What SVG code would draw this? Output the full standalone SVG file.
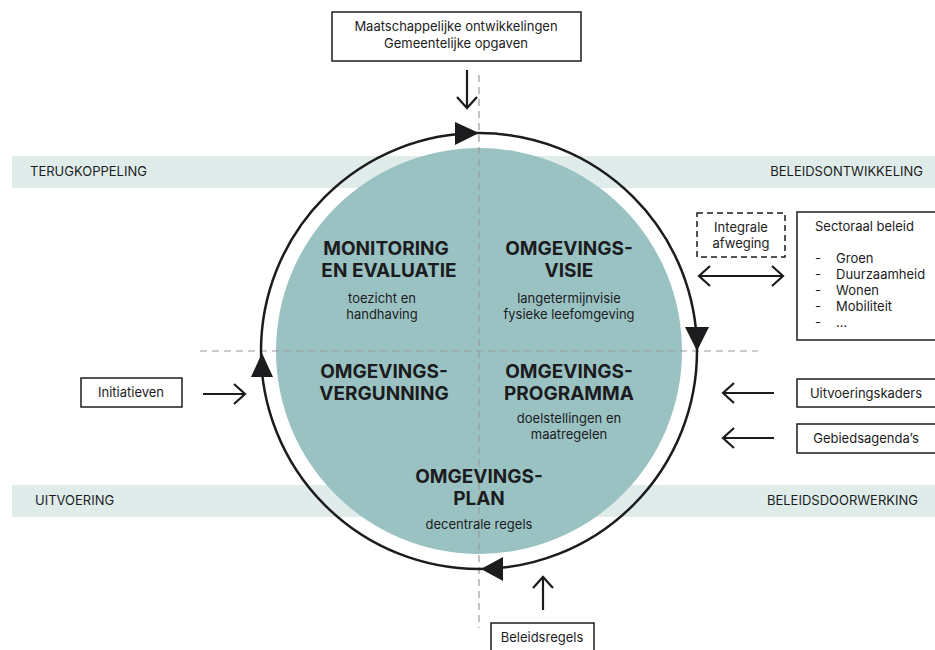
<svg xmlns="http://www.w3.org/2000/svg" width="935" height="650" viewBox="0 0 935 650">
<style>
.band{fill:#dfecea}
.lbl{font-family:Inter,"Liberation Sans",sans-serif;font-size:13px;fill:#1c1c1e}
.ttl{font-family:Inter,"Liberation Sans",sans-serif;font-size:19px;font-weight:700;fill:#1c1c1e}
.sub{font-family:Inter,"Liberation Sans",sans-serif;font-size:13px;fill:#1c1c1e}
.box{fill:#fff;stroke:#1c1c1e;stroke-width:1.5}
.dbox{fill:#fff;stroke:#1c1c1e;stroke-width:1.5;stroke-dasharray:6 4}
.axis{stroke:#9a9a9a;stroke-width:1.2;stroke-dasharray:7 5;fill:none}
.arr{stroke:#1c1c1e;stroke-width:2.2;fill:none}
.head{fill:#1c1c1e}
</style>
<defs>
<marker id="chev" viewBox="0 0 14 22" refX="12" refY="11" markerWidth="14" markerHeight="22" markerUnits="userSpaceOnUse" orient="auto-start-reverse">
<path d="M1,1 L12,11 L1,21" fill="none" stroke="#1c1c1e" stroke-width="2.2"/>
</marker>
</defs>
<rect width="935" height="650" fill="#fff"/>
<g id="bands">
<rect class="band" x="12" y="156" width="923" height="32"/>
<rect class="band" x="12" y="485" width="923" height="32"/>
<text class="lbl" x="30" y="176">TERUGKOPPELING</text>
<text class="lbl" x="923" y="176" text-anchor="end">BELEIDSONTWIKKELING</text>
<text class="lbl" x="35" y="505">UITVOERING</text>
<text class="lbl" x="918" y="505" text-anchor="end">BELEIDSDOORWERKING</text>
</g>
<g id="cycle">
<circle cx="479" cy="351" r="203" fill="#9ac2c2"/>
</g>
<g id="axes">
<line class="axis" x1="479" y1="75" x2="479" y2="628"/>
<line class="axis" x1="200" y1="351" x2="758" y2="351"/>
</g>
<g id="ring">
<circle cx="479" cy="351" r="218" fill="none" stroke="#1c1c1e" stroke-width="2.5"/>
<polygon class="head" points="479,133 455,122 455,145"/>
<polygon class="head" points="697,351 685,327 709,327"/>
<polygon class="head" points="481,569 503,557 503,581"/>
<polygon class="head" points="262,353 251,377 273,377"/>
</g>
<g id="monitoring">
<text class="ttl" x="386" y="255" text-anchor="middle">MONITORING</text>
<text class="ttl" x="389" y="277" text-anchor="middle">EN EVALUATIE</text>
<text class="sub" x="382" y="303" text-anchor="middle">toezicht en</text>
<text class="sub" x="382" y="319" text-anchor="middle">handhaving</text>
</g>
<g id="visie">
<text class="ttl" x="569" y="255" text-anchor="middle">OMGEVINGS-</text>
<text class="ttl" x="569" y="277" text-anchor="middle">VISIE</text>
<text class="sub" x="569" y="303" text-anchor="middle">langetermijnvisie</text>
<text class="sub" x="569" y="319" text-anchor="middle">fysieke leefomgeving</text>
</g>
<g id="vergunning">
<text class="ttl" x="384" y="378" text-anchor="middle">OMGEVINGS-</text>
<text class="ttl" x="384" y="400" text-anchor="middle">VERGUNNING</text>
</g>
<g id="programma">
<text class="ttl" x="569" y="378" text-anchor="middle">OMGEVINGS-</text>
<text class="ttl" x="569" y="400" text-anchor="middle">PROGRAMMA</text>
<text class="sub" x="569" y="423" text-anchor="middle">doelstellingen en</text>
<text class="sub" x="569" y="439" text-anchor="middle">maatregelen</text>
</g>
<g id="plan">
<text class="ttl" x="479" y="483" text-anchor="middle">OMGEVINGS-</text>
<text class="ttl" x="479" y="505" text-anchor="middle">PLAN</text>
<text class="sub" x="479" y="529" text-anchor="middle">decentrale regels</text>
</g>
<g id="maatschappelijk">
<rect class="box" x="332" y="12" width="249" height="49"/>
<text class="lbl" x="456" y="31" text-anchor="middle">Maatschappelijke ontwikkelingen</text>
<text class="lbl" x="456" y="48" text-anchor="middle">Gemeentelijke opgaven</text>
</g>
<g id="integrale">
<rect class="dbox" x="697" y="213" width="88" height="44"/>
<text class="lbl" x="741" y="232" text-anchor="middle">Integrale</text>
<text class="lbl" x="741" y="248" text-anchor="middle">afweging</text>
</g>
<g id="sectoraal">
<rect class="box" x="797" y="212" width="145" height="128"/>
<text class="lbl" x="815" y="231">Sectoraal beleid</text>
<text class="lbl" x="815" y="263">-</text><text class="lbl" x="836" y="263">Groen</text>
<text class="lbl" x="815" y="279">-</text><text class="lbl" x="836" y="279">Duurzaamheid</text>
<text class="lbl" x="815" y="295">-</text><text class="lbl" x="836" y="295">Wonen</text>
<text class="lbl" x="815" y="311">-</text><text class="lbl" x="836" y="311">Mobiliteit</text>
<text class="lbl" x="815" y="327">-</text><text class="lbl" x="836" y="327">...</text>
</g>
<g id="uitvoeringskaders">
<rect class="box" x="797" y="379" width="145" height="28"/>
<text class="lbl" x="866" y="398" text-anchor="middle">Uitvoeringskaders</text>
</g>
<g id="gebiedsagendas">
<rect class="box" x="797" y="424" width="145" height="29"/>
<text class="lbl" x="866" y="443" text-anchor="middle">Gebiedsagenda’s</text>
</g>
<g id="initiatieven">
<rect class="box" x="81" y="378" width="101" height="29"/>
<text class="lbl" x="131" y="397" text-anchor="middle">Initiatieven</text>
</g>
<g id="beleidsregels">
<rect class="box" x="491" y="623" width="103" height="35"/>
<text class="lbl" x="542" y="642" text-anchor="middle">Beleidsregels</text>
</g>
<g id="connectors">
<line class="arr" x1="467" y1="70" x2="467" y2="108" marker-end="url(#chev)"/>
<line class="arr" x1="699" y1="276" x2="783" y2="276" marker-start="url(#chev)" marker-end="url(#chev)"/>
<line class="arr" x1="774" y1="393" x2="723" y2="393" marker-end="url(#chev)"/>
<line class="arr" x1="774" y1="438" x2="723" y2="438" marker-end="url(#chev)"/>
<line class="arr" x1="203" y1="394" x2="245" y2="394" marker-end="url(#chev)"/>
<line class="arr" x1="543" y1="610" x2="543" y2="577" marker-end="url(#chev)"/>
</g>
</svg>
